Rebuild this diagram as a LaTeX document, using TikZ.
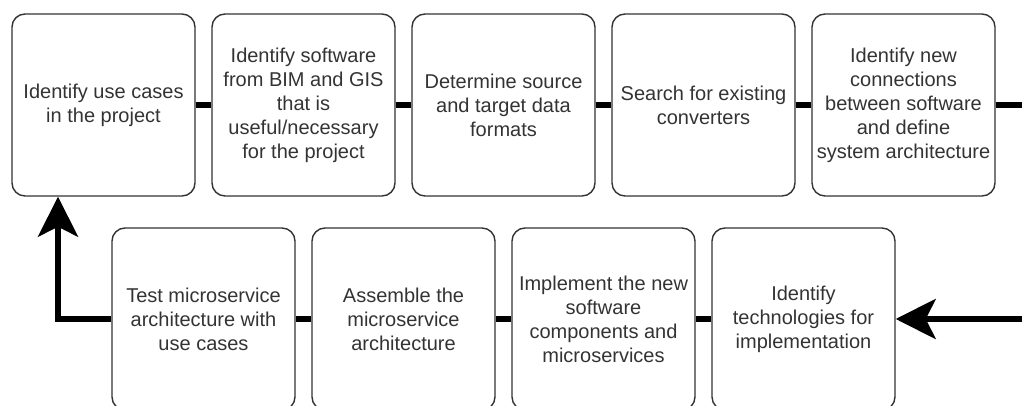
\documentclass[tikz,border=0pt]{standalone}
\usepackage{fontspec}
\setmainfont{Liberation Sans}
\usetikzlibrary{arrows.meta}
\begin{document}
\begin{tikzpicture}[x=0.5pt,y=0.5pt,
    stepbox/.style={draw=black!80, line width=0.7pt, rounded corners=6.5pt,
      minimum width=91.5pt, minimum height=91pt, align=center, inner sep=2pt,
      text=black!80, font=\fontsize{10}{12}\selectfont},
    link/.style={line width=3pt},
    bigtip/.style={-{Stealth[length=20pt,width=20pt,inset=5pt]}}]
    \useasboundingbox (0,0) rectangle (1022,406);
    \clip (0,0) rectangle (1022,406);
    % top row
    \node[stepbox] (b1) at (103.5,301) {Identify use cases\\in the project};
    \node[stepbox] (b2) at (303.5,301) {Identify software\\from BIM and GIS\\that is\\useful/necessary\\for the project};
    \node[stepbox] (b3) at (503.5,301) {Determine source\\and target data\\formats};
    \node[stepbox] (b4) at (703.5,301) {Search for existing\\converters};
    \node[stepbox] (b5) at (903.5,301) {Identify new\\connections\\between software\\and define\\system architecture};
    % bottom row
    \node[stepbox] (c1) at (203.5,87) {Test microservice\\architecture with\\use cases};
    \node[stepbox] (c2) at (403.5,87) {Assemble the\\microservice\\architecture};
    \node[stepbox] (c3) at (603.5,87) {Implement the new\\software\\components and\\microservices};
    \node[stepbox] (c4) at (803.5,87) {Identify\\technologies for\\implementation};
    \coordinate (r1) at (1040,301);
    \coordinate (l1) at (58,87);
    \draw[link] (b1) -- (b2); \draw[link] (b2) -- (b3);
    \draw[link] (b3) -- (b4); \draw[link] (b4) -- (b5);
    \draw[link,bigtip] (b5.east) -- (r1) |- (c4.east);
    \draw[link] (c4) -- (c3); \draw[link] (c3) -- (c2); \draw[link] (c2) -- (c1);
    \draw[link,bigtip] (c1.west) -- (l1) -- (l1 |- b1.south);
\end{tikzpicture}
\end{document}
